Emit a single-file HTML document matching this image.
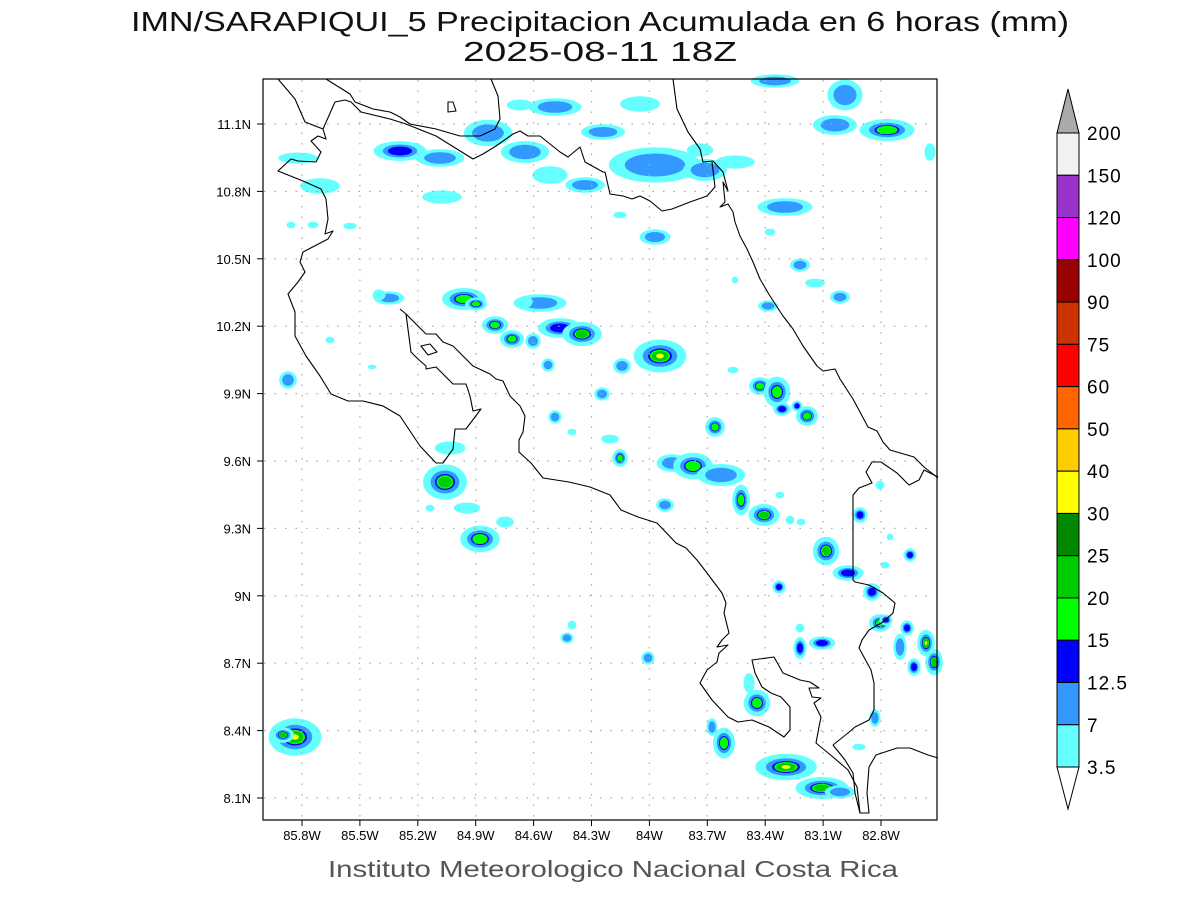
<!DOCTYPE html>
<html><head><meta charset="utf-8"><style>
html,body{margin:0;padding:0;background:#fff;}
svg{display:block;font-family:"Liberation Sans",sans-serif;}
</style></head><body>
<svg id="s" width="1200" height="900" xmlns="http://www.w3.org/2000/svg">
<rect width="1200" height="900" fill="#fff"/>
<text x="131" y="31" textLength="938" lengthAdjust="spacingAndGlyphs" font-size="28" fill="#111">IMN/SARAPIQUI_5 Precipitacion Acumulada en 6 horas (mm)</text>
<text x="463" y="61" textLength="274" lengthAdjust="spacingAndGlyphs" font-size="28" fill="#111">2025-08-11 18Z</text>
<g id="blobs"></g>
<g id="grid" stroke="#aaa" stroke-width="1.2" stroke-dasharray="1.5,9"></g>
<g fill="none" stroke="#000" stroke-width="1.1" stroke-linejoin="round">
<polyline points="278,79 295,99 305,122 323,129 326,139 318,136 311,141 321,152 316,162 298,161 291,159 278,171 303,181 321,189 326,199 328,219 325,234 333,231 328,239 303,252 300,262 305,272 298,282 288,294 295,312 295,336 306,356 320,376 331,394 348,401 363,401 383,406 400,416 420,446 436,463 443,463 453,449 455,429 466,429 481,409 473,411 470,396 466,384 453,384 443,374 436,367 426,369 426,366 418,359 411,352 406,314 400,309"/>
<polyline points="406,314 426,334 436,334 443,342 453,346 463,356 473,366 490,374 496,379 503,381 510,396 520,406 525,416 523,432 519,440 519,452 531,463 543,478 569,482 590,487 610,495 621,510 638,517 657,523 676,543 686,548 697,560 707,573 722,593 726,603 724,613 729,633 722,640 717,647 728,645 719,653 717,662 707,670 700,683 712,700 728,717 738,722 752,720 769,727 784,737 790,730 790,707 781,697 771,693 762,687 755,673 752,660 774,657 783,673 800,680 810,682 819,688 809,688 812,697 821,698 814,703 821,717 819,727 816,743 833,757 848,770 857,787 860,813 869,813 867,793 869,767 876,755 897,748 910,748 928,755 938,758"/>
<polyline points="833,745 845,760 853,773 855,793 860,813"/>
<polyline points="853,580 853,495 859,488 872,483 866,472 872,462 881,462 897,473 909,485 919,480 924,470 938,477"/>
<polyline points="853,580 855,582 869,585 883,593 895,603 893,613 883,622 869,630 862,640 859,648 871,670 874,683 874,710 869,720 855,727 848,733 833,745"/>
<polyline points="673,79 677,109 688,132 700,149 703,162 713,161 723,172 728,191 723,182 725,202 720,207 728,204 733,212 735,222 740,236 747,249 753,262 760,279 770,296 783,316 793,329 803,346 817,366 823,371 835,369 840,379 853,399 868,427 877,431 883,442 890,450 914,457 924,467 938,478"/>
<polyline points="326,79 350,94 355,102 373,109 390,112 400,117 410,124 436,129 460,136 480,136 495,129 500,119 498,96 491,79"/>
<polyline points="323,129 335,102 345,100 351,102 361,112 390,119 406,124 436,136 473,159 483,154 496,146 513,134 520,131 528,136 540,136 550,144 560,152 568,157 580,147 585,162 603,172 605,172 610,194 623,196 632,199 640,196 650,201 662,211 672,209 690,202 707,196 715,187 712,162"/>
<polygon points="448,102 453,102 456,111 448,112"/>
<polygon points="421,346 430,344 437,352 428,355"/>
</g>
<rect x="263" y="79" width="674" height="741" fill="none" stroke="#000" stroke-width="1.2"/>
<g id="ticks" font-size="13" fill="#000"></g>
<g id="cbar"></g>
<text x="328" y="877" textLength="570" lengthAdjust="spacingAndGlyphs" font-size="23" fill="#555">Instituto Meteorologico Nacional Costa Rica</text>
</svg>
<script>
var NS="http://www.w3.org/2000/svg";
function el(p,t,a,txt){var e=document.createElementNS(NS,t);for(var k in a)e.setAttribute(k,a[k]);if(txt!==undefined)e.textContent=txt;p.appendChild(e);return e;}
var g=document.getElementById('grid'),tk=document.getElementById('ticks');
var lons=["85.8W","85.5W","85.2W","84.9W","84.6W","84.3W","84W","83.7W","83.4W","83.1W","82.8W"];
for(var i=0;i<11;i++){var x=302+i*57.9;el(g,'line',{x1:x,y1:80,x2:x,y2:819});
el(tk,'line',{x1:x,y1:820,x2:x,y2:826,stroke:'#000'});el(tk,'text',{x:x,y:840,'text-anchor':'middle'},lons[i]);}
var lats=["11.1N","10.8N","10.5N","10.2N","9.9N","9.6N","9.3N","9N","8.7N","8.4N","8.1N"];
for(var i=0;i<11;i++){var y=124+i*67.4;el(g,'line',{x1:264,y1:y,x2:936,y2:y});
el(tk,'line',{x1:257,y1:y,x2:263,y2:y,stroke:'#000'});el(tk,'text',{x:251,y:y+5,'text-anchor':'end'},lats[i]);}
var C=['#66ffff','#3399ff','#0000ff','#00ff00','#00cc00','#009900','#ffff00'];
var S=[1.1,.72,.5,.42,.33,.22,.16];
var L={1:[0],2:[0,1],3:[0,1,2],4:[0,1,2,3],5:[0,1,2,3,4],6:[0,1,2,3,4,6]};
var B=[
[400,151,24,9,3],[440,158,22,8,2],[298,158,18,5,1],[320,186,18,7,1],[442,197,18,6,1],[313,225,5,3,1],[350,226,6,3,1],[291,225,4,3,1],
[488,133,22,12,2],[525,152,22,10,2],[550,175,16,8,1],[555,107,24,8,2],[520,105,12,5,1],[603,132,20,7,2],[585,185,18,7,2],[620,215,6,3,1],
[655,165,42,16,2],[705,170,20,10,2],[700,150,12,6,1],[640,104,18,7,1],[735,162,18,6,1],[775,81,22,6,2],[845,95,16,14,2],[835,125,20,9,2],[887,130,25,10,4],[930,152,5,8,1],
[785,207,25,8,2],[655,237,14,7,2],[770,232,5,3,1],[800,265,9,6,2],[815,283,9,4,1],[840,297,9,6,2],[768,306,9,5,2],[735,280,3,3,1],
[464,299,20,10,4],[476,304,10,6,4],[495,325,12,8,4],[512,339,11,8,4],[533,341,7,7,2],[560,328,20,9,3],[582,334,18,11,5],[540,303,24,8,2],[526,302,6,5,1],[389,298,14,6,2],[379,295,6,5,1],
[660,356,24,15,6],[622,366,8,7,2],[602,394,7,6,2],[548,365,6,6,2],[555,417,6,6,2],[610,439,8,4,1],[572,432,4,3,1],[330,340,4,3,1],[372,367,4,2,1],[288,380,8,8,2],
[760,386,10,8,4],[777,392,12,14,4],[782,409,8,6,3],[797,406,5,5,3],[807,416,10,9,4],[715,427,9,9,4],[733,370,5,3,1],
[445,482,20,16,5],[450,448,14,6,1],[467,508,12,5,1],[430,508,4,3,1],[480,539,18,12,4],[505,522,8,5,1],
[620,458,7,8,4],[672,463,14,8,2],[693,466,18,12,4],[665,505,8,6,2],[721,475,22,10,2],[741,500,8,14,4],[764,515,14,10,5],[780,495,4,3,1],[801,522,4,3,1],[790,520,4,4,1],
[826,551,12,13,5],[848,573,14,7,3],[860,515,7,7,3],[872,592,8,8,3],[880,623,10,8,4],[886,620,6,5,3],[822,643,12,6,3],[800,648,6,10,3],[800,628,4,4,1],
[907,628,6,7,3],[900,647,6,12,2],[914,667,6,8,3],[926,643,8,12,6],[934,662,8,12,5],[910,555,6,6,3],[779,587,6,6,3],[885,565,4,3,1],[890,537,3,3,1],[880,485,4,4,1],
[757,703,12,12,4],[749,683,5,9,1],[724,743,10,14,4],[712,727,5,8,2],[786,767,28,12,6],[822,788,24,10,5],[840,792,14,6,2],[648,658,6,6,2],[567,638,6,5,2],[572,625,4,4,1],[875,718,5,8,2],[859,747,6,3,1],
[295,737,24,17,6],[283,735,10,7,5]];
var bg=document.getElementById('blobs');
B.forEach(function(b){L[b[4]].forEach(function(lv){
 el(bg,'ellipse',{cx:b[0],cy:b[1],rx:b[2]*S[lv],ry:b[3]*S[lv],fill:C[lv]});});});
var cb=document.getElementById('cbar');
var cols=['#f2f2f2','#9933cc','#ff00ff','#990000','#cc3300','#ff0000','#ff6600','#ffcc00','#ffff00','#008800','#00cc00','#00ff00','#0000ff','#3399ff','#66ffff'];
var labs=['200','150','120','100','90','75','60','50','40','30','25','20','15','12.5','7','3.5'];
var x0=1057,w=22,y0=133,h=42.27;
el(cb,'polygon',{points:x0+','+y0+' '+(x0+w)+','+y0+' '+(x0+w/2)+',89',fill:'#aaaaaa',stroke:'#000'});
for(var i=0;i<15;i++)el(cb,'rect',{x:x0,y:y0+i*h,width:w,height:h,fill:cols[i],stroke:'#000'});
var yb=y0+15*h;
el(cb,'polygon',{points:x0+','+yb+' '+(x0+w)+','+yb+' '+(x0+w/2)+','+(yb+42),fill:'#fff',stroke:'#000'});
for(var i=0;i<16;i++)el(cb,'text',{x:1087,y:y0+i*h+7,'font-size':19,fill:'#000','letter-spacing':1},labs[i]);
</script>
</body></html>
